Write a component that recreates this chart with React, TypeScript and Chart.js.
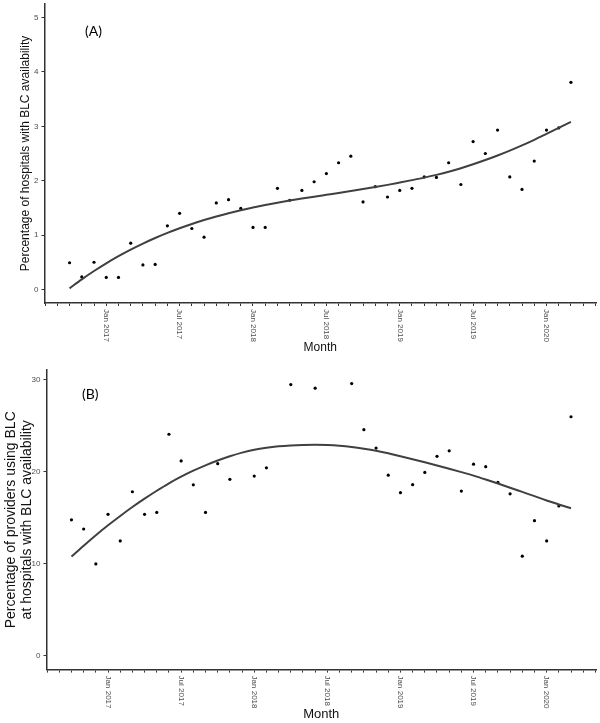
import React, { useEffect, useRef } from 'react';
import { Chart, registerables } from 'chart.js';

Chart.register(...registerables);

// ---------- data ----------
const monthLabels = [
  'Oct 2016', 'Nov 2016', 'Dec 2016',
  'Jan 2017', 'Feb 2017', 'Mar 2017', 'Apr 2017', 'May 2017', 'Jun 2017',
  'Jul 2017', 'Aug 2017', 'Sep 2017', 'Oct 2017', 'Nov 2017', 'Dec 2017',
  'Jan 2018', 'Feb 2018', 'Mar 2018', 'Apr 2018', 'May 2018', 'Jun 2018',
  'Jul 2018', 'Aug 2018', 'Sep 2018', 'Oct 2018', 'Nov 2018', 'Dec 2018',
  'Jan 2019', 'Feb 2019', 'Mar 2019', 'Apr 2019', 'May 2019', 'Jun 2019',
  'Jul 2019', 'Aug 2019', 'Sep 2019', 'Oct 2019', 'Nov 2019', 'Dec 2019',
  'Jan 2020', 'Feb 2020', 'Mar 2020',
];

const hospitalsPct = [
  0.49, 0.23, 0.50,
  0.22, 0.22, 0.85, 0.45, 0.46, 1.17,
  1.40, 1.12, 0.96, 1.59, 1.65, 1.49,
  1.14, 1.14, 1.86, 1.64, 1.82, 1.98,
  2.13, 2.33, 2.45, 1.61, 1.89, 1.70,
  1.82, 1.86, 2.07, 2.06, 2.33, 1.93,
  2.72, 2.50, 2.93, 2.07, 1.84, 2.36,
  2.93, 2.97, 3.81,
];

const hospitalsFit = [
  0.020, 0.185, 0.338,
  0.480, 0.611, 0.732, 0.843, 0.945, 1.039,
  1.125, 1.204, 1.276, 1.342, 1.402, 1.457,
  1.507, 1.553, 1.595, 1.634, 1.671, 1.706,
  1.740, 1.774, 1.809, 1.845, 1.883, 1.923,
  1.966, 2.010, 2.056, 2.107, 2.164, 2.230,
  2.302, 2.380, 2.464, 2.554, 2.650, 2.752,
  2.860, 2.970, 3.082,
];

const providersPct: (number | null)[] = [
  14.8, 13.8, 10.0,
  15.4, 12.5, 17.85, 15.4, 15.6, 24.1,
  21.2, 18.6, 15.6, 20.9, 19.2, null,
  19.55, 20.45, null, 29.5, null, 29.1,
  null, null, 29.6, 24.6, 22.6, 19.65,
  17.75, 18.62, 19.95, 21.7, 22.3, 17.92,
  20.85, 20.57, 18.86, 17.62, 10.85, 14.7,
  12.5, 16.3, 26.0,
];

const providersFit = [
  10.80, 11.98, 13.12,
  14.20, 15.22, 16.19, 17.10, 17.96, 18.77,
  19.49, 20.14, 20.72, 21.24, 21.70, 22.10,
  22.42, 22.64, 22.79, 22.88, 22.93, 22.95,
  22.92, 22.84, 22.71, 22.53, 22.31, 22.03,
  21.70, 21.39, 21.06, 20.71, 20.35, 19.98,
  19.60, 19.18, 18.74, 18.29, 17.83, 17.37,
  16.90, 16.47, 16.05,
];

const xTickLabels = ['Jan 2017', 'Jul 2017', 'Jan 2018', 'Jul 2018', 'Jan 2019', 'Jul 2019', 'Jan 2020'];
const xAxisTitle = 'Month';
const titleA = ['Percentage of hospitals with BLC availability'];
const titleB = ['Percentage of providers using BLC', 'at hospitals with BLC availability'];

// ---------- helpers ----------
const MONTHS = ['Jan', 'Feb', 'Mar', 'Apr', 'May', 'Jun', 'Jul', 'Aug', 'Sep', 'Oct', 'Nov', 'Dec'];
function monthIndex(label: string): number {
  const [m, y] = label.split(' ');
  return (parseInt(y, 10) - 2016) * 12 + MONTHS.indexOf(m) - 9;
}

const SANS = '"Liberation Sans", Arial, Helvetica, sans-serif';

type PanelCfg = {
  values: (number | null)[];
  fit: number[];
  yMin: number;
  yMax: number;
  yStep: number;
  title: string[];
  titleSize: number;
  titleX: number[];
  monthSize: number;
  tag: string;
  tagX: number;
  tagY: number;
  width: number;
  height: number;
  padTop: number;
  padRight: number;
  yAxisW: number;
  xAxisH: number;
};

function makeTextPlugin(cfg: PanelCfg) {
  return {
    id: 'panelText',
    afterDraw(chart: any) {
      const { ctx, chartArea, scales } = chart;
      const xs = scales.x;
      ctx.save();
      ctx.fillStyle = '#4d4d4d';
      ctx.font = `8px ${SANS}`;
      ctx.textAlign = 'left';
      ctx.textBaseline = 'middle';
      for (const lab of xTickLabels) {
        const px = xs.getPixelForValue(monthIndex(lab));
        ctx.save();
        ctx.translate(px, chartArea.bottom + 6);
        ctx.rotate(Math.PI / 2);
        ctx.fillText(lab, 0, 0);
        ctx.restore();
      }
      ctx.fillStyle = '#111';
      ctx.textAlign = 'center';
      ctx.font = `${cfg.monthSize}px ${SANS}`;
      ctx.fillText(xAxisTitle, (chartArea.left + chartArea.right) / 2, chartArea.bottom + 45);
      const cy = (chartArea.top + chartArea.bottom) / 2;
      ctx.font = `${cfg.titleSize}px ${SANS}`;
      cfg.title.forEach((line, i) => {
        ctx.save();
        ctx.translate(cfg.titleX[i], cy);
        ctx.rotate(-Math.PI / 2);
        ctx.fillText(line, 0, 0);
        ctx.restore();
      });
      ctx.font = `14px Lato, "Open Sans", sans-serif`;
      ctx.textAlign = 'left';
      ctx.fillStyle = '#000';
      ctx.fillText(cfg.tag, cfg.tagX, cfg.tagY);
      ctx.restore();
    },
  };
}

function Panel({ cfg }: { cfg: PanelCfg }) {
  const ref = useRef<HTMLCanvasElement | null>(null);
  useEffect(() => {
    if (!ref.current) return;
    const first = monthIndex(monthLabels[0]);
    const last = monthIndex(monthLabels[monthLabels.length - 1]);
    const expand = (last - first) * 0.05;
    const points = monthLabels
      .map((m, i) => ({ x: monthIndex(m), y: cfg.values[i] }))
      .filter((p) => p.y !== null) as { x: number; y: number }[];
    const curve = monthLabels.map((m, i) => ({ x: monthIndex(m), y: cfg.fit[i] }));
    const axisColor = '#333';
    const chart = new Chart(ref.current, {
      type: 'scatter',
      data: {
        datasets: [
          {
            data: curve,
            showLine: true,
            borderColor: '#404040',
            borderWidth: 2,
            pointRadius: 0,
            cubicInterpolationMode: 'monotone',
            fill: false,
          } as any,
          {
            data: points,
            pointRadius: 1.6,
            pointBackgroundColor: '#000',
            pointBorderWidth: 0,
            borderColor: '#000',
          },
        ],
      },
      options: {
        animation: false,
        responsive: false,
        devicePixelRatio: 1,
        layout: { padding: { top: cfg.padTop, right: cfg.padRight, left: 0, bottom: 0 } },
        plugins: { legend: { display: false }, tooltip: { enabled: false } },
        scales: {
          x: {
            type: 'linear',
            min: first - expand,
            max: last + expand,
            grid: { drawOnChartArea: false, color: axisColor, tickColor: axisColor, tickLength: 3, lineWidth: 1 },
            border: { display: true, color: axisColor, width: 1.5 },
            ticks: { display: false, stepSize: 1, includeBounds: false, autoSkip: false },
            afterFit: (s: any) => {
              s.height = cfg.xAxisH;
              s.paddingLeft = 0;
              s.paddingRight = 0;
            },
          },
          y: {
            type: 'linear',
            min: cfg.yMin,
            max: cfg.yMax,
            grid: { drawOnChartArea: false, color: axisColor, tickColor: axisColor, tickLength: 3, lineWidth: 1 },
            border: { display: true, color: axisColor, width: 1.5 },
            ticks: {
              stepSize: cfg.yStep,
              includeBounds: false,
              color: '#4d4d4d',
              padding: 3,
              font: { size: 8, family: SANS },
            },
            afterFit: (s: any) => {
              s.width = cfg.yAxisW;
              s.paddingTop = 0;
              s.paddingBottom = 0;
            },
          },
        },
      },
      plugins: [makeTextPlugin(cfg)],
    });
    return () => chart.destroy();
  }, [cfg]);
  return <canvas ref={ref} width={cfg.width} height={cfg.height} style={{ display: 'block', width: cfg.width, height: cfg.height }} />;
}

const panelA: PanelCfg = {
  values: hospitalsPct,
  fit: hospitalsFit,
  yMin: -0.25,
  yMax: 5.25,
  yStep: 1,
  title: titleA,
  titleSize: 12,
  titleX: [26],
  monthSize: 12,
  tag: '(A)',
  tagX: 85,
  tagY: 31,
  width: 600,
  height: 360,
  padTop: 0,
  padRight: 4,
  yAxisW: 44.5,
  xAxisH: 57,
};

const panelB: PanelCfg = {
  values: providersPct,
  fit: providersFit,
  yMin: -1.48,
  yMax: 31.08,
  yStep: 10,
  title: titleB,
  titleSize: 14,
  titleX: [11, 27],
  monthSize: 13,
  tag: '(B)',
  tagX: 82,
  tagY: 34,
  width: 600,
  height: 363,
  padTop: 10,
  padRight: 3.5,
  yAxisW: 46.5,
  xAxisH: 53.4,
};

export default function App() {
  return (
    <div style={{ position: 'absolute', left: 0, top: 0, width: 600, height: 723, background: '#fff' }}>
      <Panel cfg={panelA} />
      <Panel cfg={panelB} />
    </div>
  );
}
